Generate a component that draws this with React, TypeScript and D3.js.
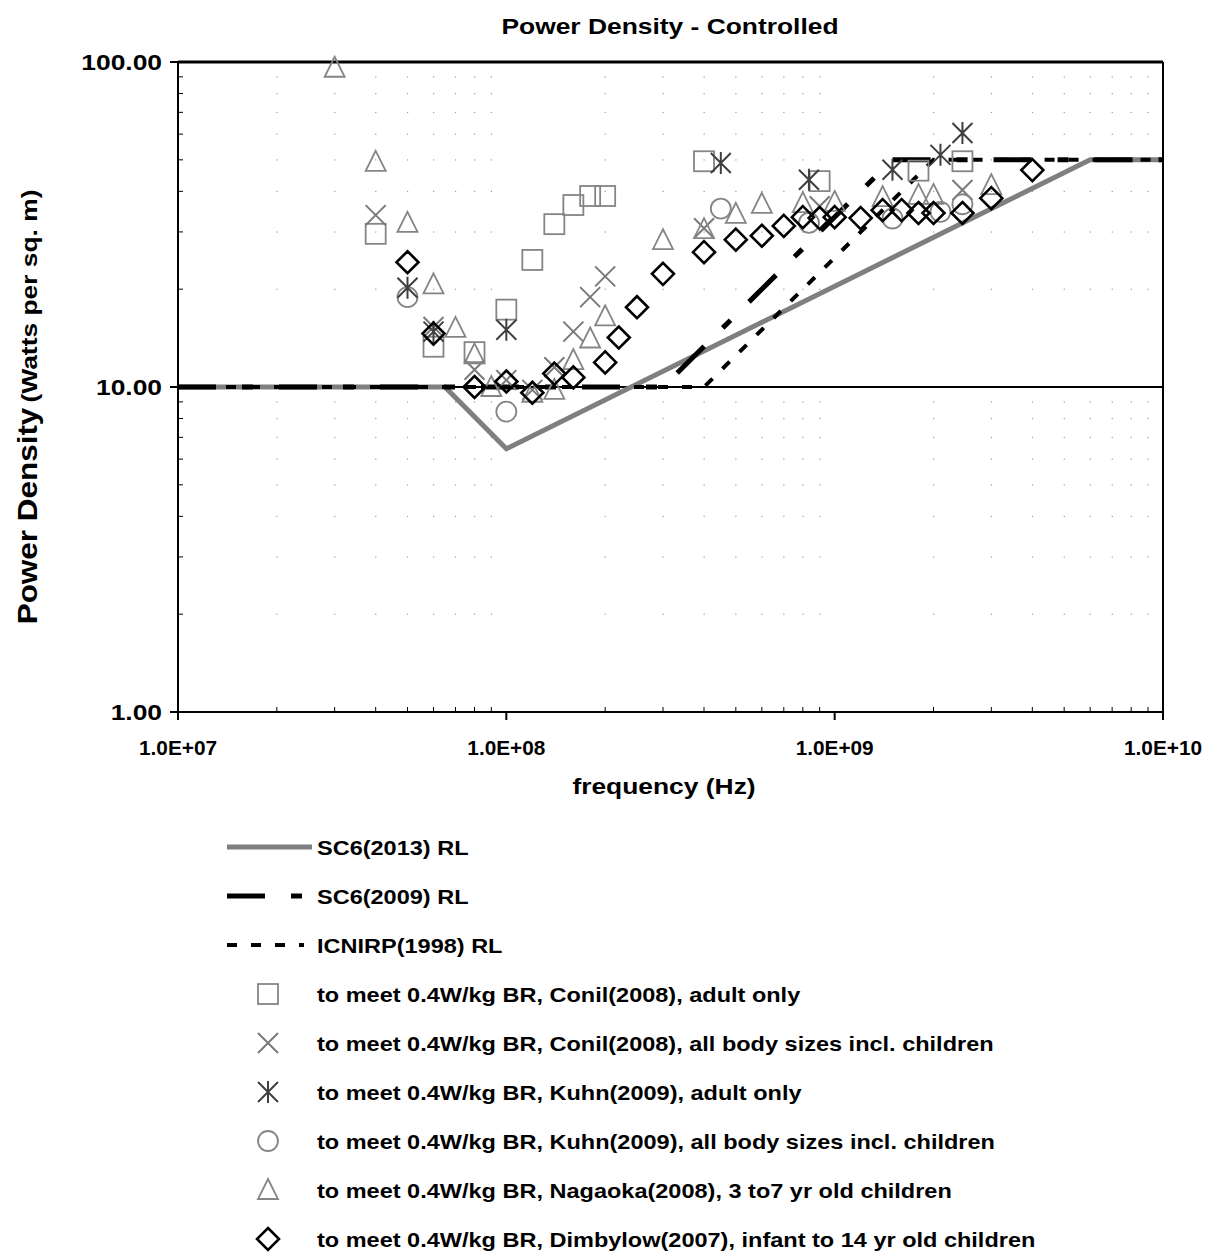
import React from "react";
import * as d3 from "d3";

// ---- Data ----
const xTicks = [1e7, 1e8, 1e9, 1e10];
const xTickLabels = ["1.0E+07", "1.0E+08", "1.0E+09", "1.0E+10"];
const yTicks = [1, 10, 100];
const yTickLabels = ["1.00", "10.00", "100.00"];

// Reference level lines (Hz, W/m^2)
const sc6_2013F = [1e7, 6.5e7, 1e8, 6e9, 1e10];
const sc6_2013V = [10, 10, 6.455, 50, 50];
const sc6_2009F = [1e7, 3e8, 1.5e9, 1e10];
const sc6_2009V = [10, 10, 50, 50];
const icnirpF = [1e7, 4e8, 2e9, 1e10];
const icnirpV = [10, 10, 50, 50];

// Scatter series (MHz, W/m^2)
const conilAdultF = [40, 60, 80, 100, 120, 140, 160, 180, 200, 400, 900, 1800, 2450];
const conilAdultV = [29.6, 13.3, 12.8, 17.3, 24.6, 31.7, 36.3, 38.7, 38.7, 49.5, 43, 46.3, 49.5];
const conilAllF = [40, 60, 80, 100, 120, 140, 160, 180, 200, 400, 900, 2450];
const conilAllV = [33.8, 15.3, 11.3, 10.5, 9.8, 11.5, 14.8, 18.9, 21.9, 30.8, 36, 40.4];
const kuhnAdultF = [50, 60, 100, 450, 835, 1500, 2100, 2450];
const kuhnAdultV = [20.2, 14.8, 15.0, 48.9, 43.4, 46.6, 51.8, 60.5];
const kuhnAllF = [50, 100, 450, 835, 1500, 2100, 2450];
const kuhnAllV = [18.9, 8.4, 35.4, 32.0, 33.0, 34.6, 36.5];
const nagaokaF = [30, 40, 50, 60, 70, 80, 90, 120, 140, 160, 180, 200, 300, 400, 500, 600, 800, 1000, 1400, 1800, 2000, 3000];
const nagaokaV = [96, 49.3, 32, 20.7, 15.2, 12.6, 10, 9.6, 9.8, 12.1, 14.1, 16.5, 28.3, 30.6, 34.1, 36.6, 36.8, 37.1, 38.4, 39.0, 39.0, 41.8];
const dimbylowF = [50, 60, 80, 100, 120, 140, 160, 200, 220, 250, 300, 400, 500, 600, 700, 800, 900, 1000, 1200, 1400, 1600, 1800, 2000, 2450, 3000, 4000];
const dimbylowV = [24.2, 14.6, 10, 10.4, 9.6, 11.0, 10.7, 11.9, 14.2, 17.6, 22.3, 26.0, 28.4, 29.2, 31.3, 33.3, 33.1, 33.3, 33.1, 35, 35, 34.3, 34.3, 34.3, 38.1, 46.5];

const lineLabels = ["SC6(2013) RL", "SC6(2009) RL", "ICNIRP(1998) RL"];
const markerLabels = [
  "to meet 0.4W/kg BR, Conil(2008), adult only",
  "to meet 0.4W/kg BR, Conil(2008), all body sizes incl. children",
  "to meet 0.4W/kg BR, Kuhn(2009), adult only",
  "to meet 0.4W/kg BR, Kuhn(2009), all body sizes incl. children",
  "to meet 0.4W/kg BR, Nagaoka(2008), 3 to7 yr old children",
  "to meet 0.4W/kg BR, Dimbylow(2007), infant to 14 yr old children",
];

const FONT = "'Liberation Sans', Arial, sans-serif";
const GRAY = "#858585";

type Kind = "square" | "x" | "aster" | "circle" | "tri" | "diamond";

function Marker({ kind, x, y }: { kind: Kind; x: number; y: number }) {
  const s = 10;
  switch (kind) {
    case "square":
      return <rect x={x - s} y={y - s} width={2 * s} height={2 * s} fill="none" stroke={GRAY} strokeWidth={1.8} />;
    case "x":
      return (
        <path d={`M${x - s},${y - s}L${x + s},${y + s}M${x - s},${y + s}L${x + s},${y - s}`} stroke="#7a7a7a" strokeWidth={2} fill="none" />
      );
    case "aster":
      return (
        <path
          d={`M${x - s},${y - s}L${x + s},${y + s}M${x - s},${y + s}L${x + s},${y - s}M${x},${y - s - 1}L${x},${y + s + 1}`}
          stroke="#3f3f3f"
          strokeWidth={2}
          fill="none"
        />
      );
    case "circle":
      return <circle cx={x} cy={y} r={s} fill="none" stroke={GRAY} strokeWidth={1.8} />;
    case "tri":
      return <path d={`M${x},${y - s - 1}L${x + s},${y + s - 1}L${x - s},${y + s - 1}Z`} fill="none" stroke={GRAY} strokeWidth={1.8} />;
    case "diamond":
      return <path d={`M${x},${y - 11}L${x + 11},${y}L${x},${y + 11}L${x - 11},${y}Z`} fill="none" stroke="#000" strokeWidth={2.6} />;
  }
}

function SText({
  x,
  y,
  sx,
  size,
  anchor = "start",
  rotate = 0,
  children,
}: {
  x: number;
  y: number;
  sx: number;
  size: number;
  anchor?: "start" | "middle" | "end";
  rotate?: number;
  children: React.ReactNode;
}) {
  return (
    <text
      transform={`translate(${x},${y}) rotate(${rotate}) scale(${sx},1)`}
      textAnchor={anchor}
      fontSize={size}
      fontWeight="bold"
    >
      {children}
    </text>
  );
}

export default function App() {
  const W = 1225;
  const H = 1255;
  const left = 178, right = 1163, top = 62, bottom = 712;
  const x = d3.scaleLog().domain([1e7, 1e10]).range([left, right]);
  const y = d3.scaleLog().domain([1, 100]).range([bottom, top]);

  const line = d3
    .line<[number, number]>()
    .x((d) => x(d[0]))
    .y((d) => y(d[1]));
  const pts = (F: number[], V: number[]) => F.map((f, i) => [f, V[i]] as [number, number]);

  const series: { kind: Kind; F: number[]; V: number[] }[] = [
    { kind: "square", F: conilAdultF, V: conilAdultV },
    { kind: "x", F: conilAllF, V: conilAllV },
    { kind: "circle", F: kuhnAllF, V: kuhnAllV },
    { kind: "tri", F: nagaokaF, V: nagaokaV },
    { kind: "aster", F: kuhnAdultF, V: kuhnAdultV },
    { kind: "diamond", F: dimbylowF, V: dimbylowV },
  ];
  const legendKinds: Kind[] = ["square", "x", "aster", "circle", "tri", "diamond"];

  const yMinor: number[] = [];
  for (const dec of [1, 10]) for (let k = 2; k <= 9; k++) yMinor.push(dec * k);
  const xMinor: number[] = [];
  for (const dec of [1e7, 1e8, 1e9]) for (let k = 2; k <= 9; k++) xMinor.push(dec * k);

  const styles = {
    sc2013: { stroke: "#7f7f7f", strokeWidth: 5, dash: undefined as string | undefined },
    sc2009: { stroke: "#000", strokeWidth: 5, dash: "38,26,11,26" },
    icnirp: { stroke: "#000", strokeWidth: 4, dash: "10,14" },
  };

  const legY0 = 847;
  const legStep = 49;

  return (
    <svg width={W} height={H} style={{ position: "absolute", left: 0, top: 0, background: "#fff" }} fontFamily={FONT}>
      <rect x={0} y={0} width={W} height={H} fill="#fff" />
      <SText x={670} y={34} sx={1.2} size={22} anchor="middle">
        Power Density - Controlled
      </SText>

      {/* faint dotted minor grid (dots at intersections) */}
      <g fill="#9a9a9a">
        {xMinor.map((fx, i) =>
          yMinor.map((vy, j) => <rect key={`${i}-${j}`} x={x(fx) - 0.5} y={y(vy) - 0.5} width={1.2} height={1.2} />)
        )}
      </g>

      {/* frame */}
      <line x1={left} x2={right} y1={top} y2={top} stroke="#000" strokeWidth={3} />
      <line x1={right} x2={right} y1={top} y2={bottom} stroke="#000" strokeWidth={2} />
      <line x1={left} x2={right} y1={y(10)} y2={y(10)} stroke="#000" strokeWidth={2} />

      {/* reference lines */}
      <path d={line(pts(sc6_2013F, sc6_2013V)) || ""} fill="none" stroke={styles.sc2013.stroke} strokeWidth={styles.sc2013.strokeWidth} />
      <path d={line(pts(sc6_2009F, sc6_2009V)) || ""} fill="none" stroke={styles.sc2009.stroke} strokeWidth={styles.sc2009.strokeWidth} strokeDasharray={styles.sc2009.dash} />
      <path d={line(pts(icnirpF, icnirpV)) || ""} fill="none" stroke={styles.icnirp.stroke} strokeWidth={styles.icnirp.strokeWidth} strokeDasharray={styles.icnirp.dash} />

      {/* markers */}
      {series.map((s, si) => (
        <g key={si}>
          {s.F.map((f, i) => (
            <Marker key={i} kind={s.kind} x={x(f * 1e6)} y={y(s.V[i])} />
          ))}
        </g>
      ))}

      {/* axes */}
      <line x1={left} x2={left} y1={top} y2={bottom} stroke="#000" strokeWidth={2} />
      <line x1={left} x2={right} y1={bottom} y2={bottom} stroke="#000" strokeWidth={2} />
      {yTicks.map((t, i) => (
        <g key={i}>
          <line x1={left - 8} x2={left} y1={y(t)} y2={y(t)} stroke="#000" strokeWidth={2} />
          <SText x={162} y={y(t) + 8} sx={1.2} size={22} anchor="end">
            {yTickLabels[i]}
          </SText>
        </g>
      ))}
      {yMinor.map((t, i) => (
        <line key={i} x1={left} x2={left + 5} y1={y(t)} y2={y(t)} stroke="#000" strokeWidth={1} />
      ))}
      {xTicks.map((t, i) => (
        <g key={i}>
          <line x1={x(t)} x2={x(t)} y1={bottom} y2={bottom + 8} stroke="#000" strokeWidth={2} />
          <SText x={x(t)} y={bottom + 43} sx={1.04} size={20} anchor="middle">
            {xTickLabels[i]}
          </SText>
        </g>
      ))}
      {xMinor.map((t, i) => (
        <line key={i} x1={x(t)} x2={x(t)} y1={bottom} y2={bottom - 5} stroke="#000" strokeWidth={1} />
      ))}

      <SText x={664} y={794} sx={1.2} size={22} anchor="middle">
        frequency (Hz)
      </SText>
      <SText x={37} y={516} sx={1.165} size={27} anchor="middle" rotate={-90}>
        Power Density
      </SText>
      <SText x={37} y={296} sx={1.2} size={22} anchor="middle" rotate={-90}>
        (Watts per sq. m)
      </SText>

      {/* legend */}
      {lineLabels.map((lab, i) => {
        const ly = legY0 + i * legStep;
        const st = i === 0 ? styles.sc2013 : i === 1 ? styles.sc2009 : styles.icnirp;
        return (
          <g key={i}>
            <line x1={227} x2={i === 0 ? 312 : 304} y1={ly} y2={ly} stroke={st.stroke} strokeWidth={st.strokeWidth} strokeDasharray={st.dash} />
            <SText x={317} y={ly + 8} sx={1.12} size={21}>
              {lab}
            </SText>
          </g>
        );
      })}
      {markerLabels.map((lab, i) => {
        const ly = legY0 + (i + 3) * legStep;
        return (
          <g key={i}>
            <Marker kind={legendKinds[i]} x={268} y={ly} />
            <SText x={317} y={ly + 8} sx={1.12} size={21}>
              {lab}
            </SText>
          </g>
        );
      })}
    </svg>
  );
}
